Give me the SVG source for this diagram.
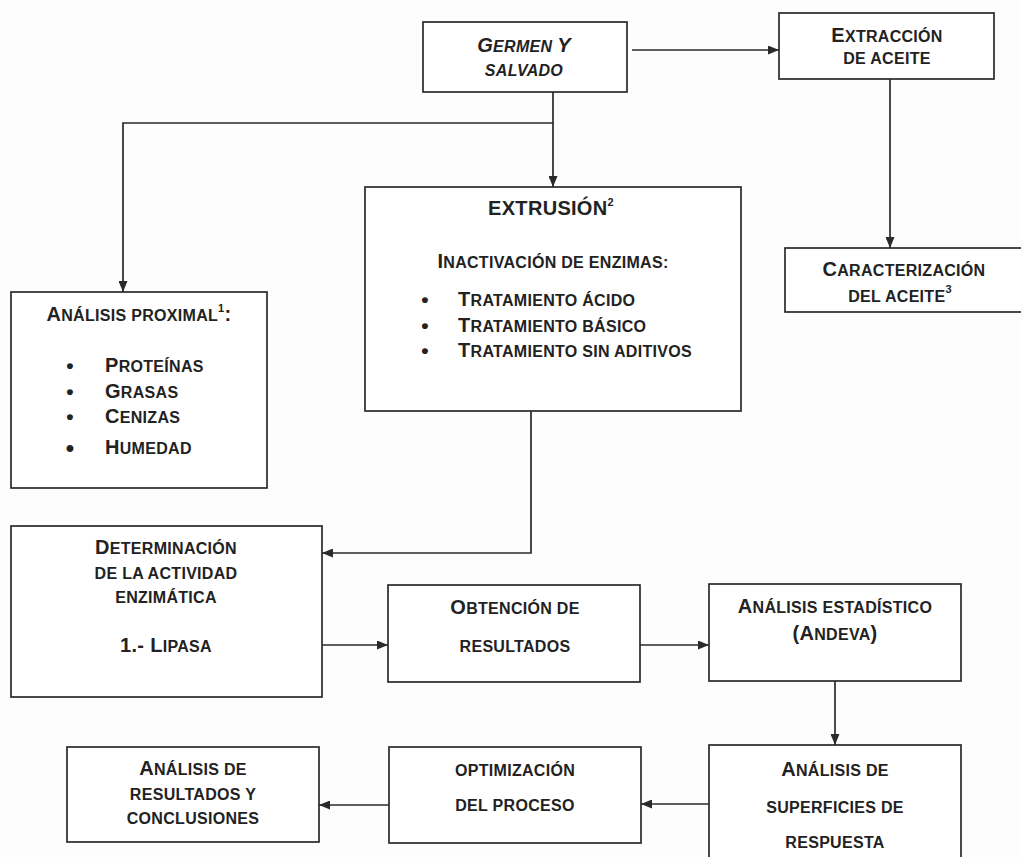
<svg xmlns="http://www.w3.org/2000/svg" width="1021" height="857" viewBox="0 0 1021 857">
<style>
.bg{fill:#fdfdfd}
.box{fill:#ffffff;stroke:#2a2a2a;stroke-width:1.7}
.con{fill:none;stroke:#2a2a2a;stroke-width:1.7}
.t{font-family:"Liberation Sans",Arial,sans-serif;font-weight:bold;font-size:16px;fill:#222222;letter-spacing:0.3px;text-anchor:middle}
.l{text-anchor:start}
.i{font-style:italic}
.B{font-size:20px}
.sup{font-size:11px}
.dot{font-size:21px}
</style>
<defs>
<marker id="ah" markerUnits="userSpaceOnUse" markerWidth="11" markerHeight="9" refX="11" refY="4.5" orient="auto">
<path d="M0,0 L11,4.5 L0,9 z" fill="#2a2a2a"/>
</marker>
</defs>
<rect class="bg" x="0" y="0" width="1021" height="857"/>
<g id="connectors">
<path class="con" d="M632,50 H779" marker-end="url(#ah)"/>
<path class="con" d="M553,92 V187" marker-end="url(#ah)"/>
<path class="con" d="M553,123 H123 V292" marker-end="url(#ah)"/>
<path class="con" d="M890,79 V248" marker-end="url(#ah)"/>
<path class="con" d="M531,411 V553 H322" marker-end="url(#ah)"/>
<path class="con" d="M322,645 H388" marker-end="url(#ah)"/>
<path class="con" d="M640,645 H709" marker-end="url(#ah)"/>
<path class="con" d="M835,681 V745" marker-end="url(#ah)"/>
<path class="con" d="M709,804 H641" marker-end="url(#ah)"/>
<path class="con" d="M389,805 H319" marker-end="url(#ah)"/>
</g>
<g id="germen">
<rect class="box" x="423" y="22" width="204" height="70"/>
<text class="t i" x="524" y="52"><tspan class="B">G</tspan>ERMEN <tspan class="B">Y</tspan></text>
<text class="t i" x="524" y="76">SALVADO</text>
</g>
<g id="extraccion">
<rect class="box" x="779" y="13" width="215" height="66"/>
<text class="t" x="887" y="42"><tspan class="B">E</tspan>XTRACCIÓN</text>
<text class="t" x="887" y="64">DE ACEITE</text>
</g>
<g id="caracterizacion">
<rect class="box" x="785" y="248" width="245" height="64"/>
<text class="t" x="904" y="276"><tspan class="B">C</tspan>ARACTERIZACIÓN</text>
<text class="t" x="900" y="302">DEL ACEITE<tspan class="sup" dy="-9">3</tspan></text>
</g>
<g id="proximal">
<rect class="box" x="11" y="292" width="256" height="196"/>
<text class="t" x="139" y="321"><tspan class="B">A</tspan>NÁLISIS PROXIMAL<tspan class="sup" dy="-9">1</tspan><tspan class="B" dy="9">:</tspan></text>
<text class="t dot" x="70" y="373">•</text>
<text class="t dot" x="70" y="399">•</text>
<text class="t dot" x="70" y="424">•</text>
<text class="t dot" x="70" y="456" style="font-size:24px">•</text>
<text class="t l" x="105" y="372"><tspan class="B">P</tspan>ROTEÍNAS</text>
<text class="t l" x="105" y="398"><tspan class="B">G</tspan>RASAS</text>
<text class="t l" x="105" y="423"><tspan class="B">C</tspan>ENIZAS</text>
<text class="t l" x="105" y="454"><tspan class="B">H</tspan>UMEDAD</text>
</g>
<g id="extrusion">
<rect class="box" x="365" y="187" width="376" height="224"/>
<text class="t B" x="551" y="215">EXTRUSIÓN<tspan class="sup" dy="-9">2</tspan></text>
<text class="t" x="553" y="268"><tspan class="B">I</tspan>NACTIVACIÓN DE ENZIMAS:</text>
<text class="t dot" x="425" y="307">•</text>
<text class="t dot" x="425" y="333">•</text>
<text class="t dot" x="425" y="358">•</text>
<text class="t l" x="458" y="306"><tspan class="B">T</tspan>RATAMIENTO ÁCIDO</text>
<text class="t l" x="458" y="332"><tspan class="B">T</tspan>RATAMIENTO BÁSICO</text>
<text class="t l" x="458" y="357"><tspan class="B">T</tspan>RATAMIENTO SIN ADITIVOS</text>
</g>
<g id="determinacion">
<rect class="box" x="11" y="526" width="311" height="171"/>
<text class="t" x="166" y="554"><tspan class="B">D</tspan>ETERMINACIÓN</text>
<text class="t" x="166" y="579">DE LA ACTIVIDAD</text>
<text class="t" x="166" y="603">ENZIMÁTICA</text>
<text class="t" x="166" y="652"><tspan class="B">1.- L</tspan>IPASA</text>
</g>
<g id="obtencion">
<rect class="box" x="388" y="585" width="252" height="97"/>
<text class="t" x="515" y="614"><tspan class="B">O</tspan>BTENCIÓN DE</text>
<text class="t" x="515" y="652">RESULTADOS</text>
</g>
<g id="estadistico">
<rect class="box" x="709" y="584" width="252" height="97"/>
<text class="t" x="835" y="613"><tspan class="B">A</tspan>NÁLISIS ESTADÍSTICO</text>
<text class="t" x="835" y="640"><tspan class="B">(A</tspan>NDEVA<tspan class="B">)</tspan></text>
</g>
<g id="superficies">
<rect class="box" x="709" y="745" width="252" height="130"/>
<text class="t" x="835" y="776"><tspan class="B">A</tspan>NÁLISIS DE</text>
<text class="t" x="835" y="813">SUPERFICIES DE</text>
<text class="t" x="835" y="848">RESPUESTA</text>
</g>
<g id="optimizacion">
<rect class="box" x="389" y="747" width="252" height="96"/>
<text class="t" x="515" y="776">OPTIMIZACIÓN</text>
<text class="t" x="515" y="811">DEL PROCESO</text>
</g>
<g id="resultados">
<rect class="box" x="67" y="747" width="252" height="95"/>
<text class="t" x="193" y="775"><tspan class="B">A</tspan>NÁLISIS DE</text>
<text class="t" x="193" y="800">RESULTADOS Y</text>
<text class="t" x="193" y="824">CONCLUSIONES</text>
</g>
</svg>
